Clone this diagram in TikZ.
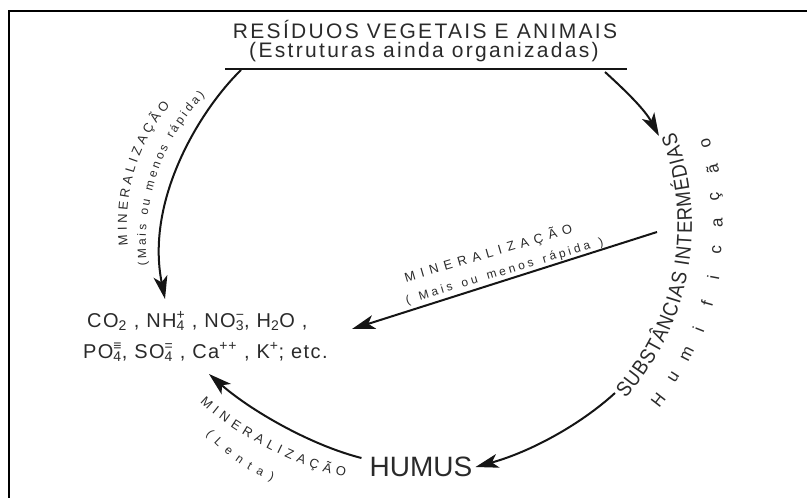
\documentclass[tikz,border=0pt]{standalone}
\usepackage{fontspec}
\setmainfont{Liberation Sans}
\setsansfont{Liberation Sans}
\usetikzlibrary{arrows.meta,positioning,calc,decorations.text}
\definecolor{inkBlack}{HTML}{151515}
\definecolor{inkGray}{HTML}{2A2A2A}
\newfontfamily\titleFont[LetterSpace=11]{Liberation Sans}
\newfontfamily\chemFont[LetterSpace=7]{Liberation Sans}
\newfontfamily\narrowFont[FakeStretch=0.88]{Liberation Sans}
\newcommand{\lblFont}{\fontsize{13}{15}\selectfont}
\newcommand{\smlFont}{\fontsize{12}{14}\selectfont}
\newcommand{\ionsub}[2]{\makebox[0pt][l]{\textsuperscript{#2}}\textsubscript{#1}}

\begin{document}
\begin{tikzpicture}[
    x=1pt, y=-1pt,
    every node/.style={text=inkGray, inner sep=0pt},
    titletxt/.style={font=\titleFont\fontsize{21}{24}\selectfont, anchor=base},
    chemtxt/.style={font=\chemFont\fontsize{20}{24}\selectfont, anchor=base west},
    flow/.style={-{Stealth[length=23pt, width=14pt, inset=6pt]}, inkBlack, line width=2pt},
    pathtxt/.style={decorate, decoration={text along path, text color=inkGray,
                    text align={fit to path}, text={#1}}},
  ]
  \useasboundingbox (0,0) rectangle (807,498);
  % frame
  \draw[black, line width=2pt] (9,498) -- (9,11) -- (807,11);

  % residues
  \node[titletxt] (res) at (425,38) {RESÍDUOS VEGETAIS E ANIMAIS};
  \node[titletxt] (resSub) at (424,57) {(Estruturas ainda organizadas)};
  \draw[inkBlack, line width=1.3pt] (225,69) -- (627,69);

  % mineral products
  \node[chemtxt] (chemA) at (87,327)
    {CO\textsubscript{2} , NH\ionsub{4}{+} , NO\ionsub{3}{−}, H\textsubscript{2}O ,};
  \node[chemtxt] (chemB) at (83,358)
    {PO\ionsub{4}{≡}, SO\ionsub{4}{=} , Ca\textsuperscript{++} , K\textsuperscript{+}; etc.};

  % humus
  \node[font=\fontsize{28}{30}\selectfont] (hum) at (421,467) {HUMUS};

  % intermediate substances
  \coordinate (ctr) at (433,225);
  \path[pathtxt={|\narrowFont\fontsize{21}{24}\selectfont|SUBSTÂNCIAS INTERMÉDIAS}]
    ($(ctr)+(42:259)$) arc[start angle=42, end angle=-21, radius=259];
  \foreach \ch [count=\i] in {H,u,m,i,f,i,c,a,ç,ã,o}
    \node[font=\fontsize{17}{20}\selectfont, rotate=90-37.8+5.45*(\i-1)] (humif\i)
      at ($(ctr)+({37.8-5.45*(\i-1)}:285)$) {\ch};

  % connectors
  \coordinate (resL) at (241,70);
  \coordinate (resR) at (605,72);
  \coordinate (subT) at (659,136);
  \coordinate (subM) at (657,232);
  \coordinate (subB) at (615,393);
  \coordinate (chemT) at (165,299);
  \coordinate (chemR) at (352,329);
  \coordinate (chemD) at (209,374);

  \draw[flow] (resL) .. controls (200,110) and (145,200) .. (chemT);
  \draw[flow] (resR) .. controls (627,92) and (645,110) .. (subT);
  \draw[flow] (subM) -- (chemR);
  \draw[flow] (subB) .. controls (580,425) and (530,452) .. ([xshift=3pt]hum.east);
  \draw[flow] ([xshift=-8pt,yshift=9pt]hum.west) .. controls (310,445) and (250,410) .. (chemD);

  % labels along the connectors
  \path[pathtxt={|\lblFont|MINERALIZAÇÃO}]
    (128,245) .. controls (122,190) and (140,140) .. (170,106);
  \path[pathtxt={|\smlFont|(Mais ou menos rápida)}]
    (147,265) .. controls (140,200) and (165,135) .. (205,96);
  \path[pathtxt={|\lblFont|MINERALIZAÇÃO}] (406,282) -- (573,233);
  \path[pathtxt={|\smlFont|( Mais ou menos rápida )}] (407,304) -- (604,245);
  \path[pathtxt={|\lblFont|MINERALIZAÇÃO}]
    (200,402) .. controls (225,427) and (290,467) .. (345,477);
  \path[pathtxt={|\smlFont|(Lenta)}]
    (206,434) .. controls (225,455) and (245,470) .. (272,481);
\end{tikzpicture}
\end{document}
